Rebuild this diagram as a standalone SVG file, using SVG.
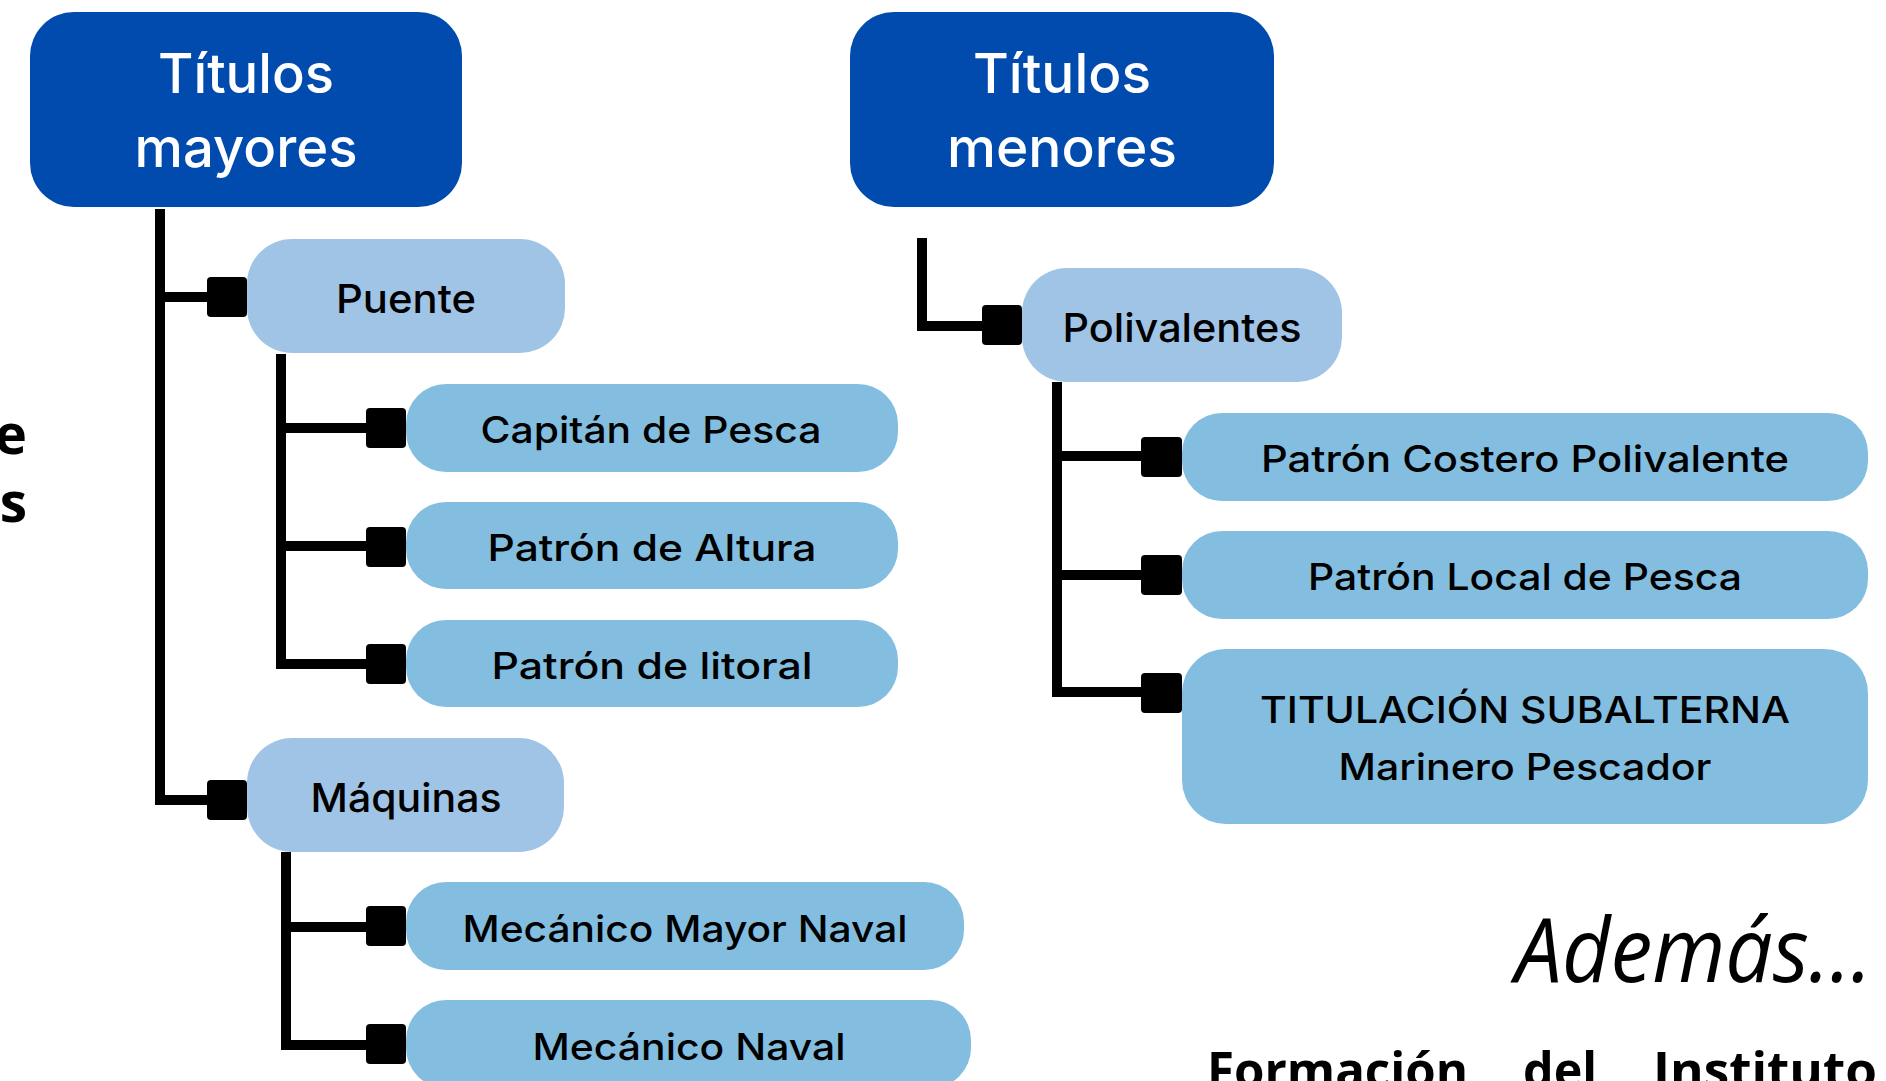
<svg xmlns="http://www.w3.org/2000/svg" width="1886" height="1081" viewBox="0 0 1886 1081">
<style>
.hdr{fill:#004BAD}
.mid{fill:#A0C4E6}
.leaf{fill:#83BEE0}
.sq{fill:#000}
.conn{fill:none;stroke:#000;stroke-width:10;stroke-linejoin:miter;stroke-linecap:butt}
text{font-family:Inter,"Noto Sans","Liberation Sans",sans-serif;font-weight:500;text-anchor:middle}
.th{fill:#fff;font-size:55px}
.tm{fill:#000;font-size:39px}
.tl{fill:#000;font-size:37px}
.side{font-family:"Open Sans","Liberation Sans",sans-serif;font-weight:700;font-size:55px;text-anchor:end}
</style>
<rect width="1886" height="1081" fill="#fff"/>
<g id="connectors">
<path class="conn" d="M160 209 V800 H207 M160 297 H207"/>
<path class="conn" d="M281 354 V664 H366 M281 428 H366 M281 546 H366"/>
<path class="conn" d="M286 852 V1045 H366 M286 927 H366"/>
<path class="conn" d="M922 238 V326 H982"/>
<path class="conn" d="M1057 382 V692 H1141 M1057 456 H1141 M1057 575 H1141"/>
</g>
<g id="titulos-mayores"><rect class="hdr" x="30" y="12" width="432" height="195" rx="44"/>
<text class="th" x="246" y="93" textLength="176" lengthAdjust="spacingAndGlyphs">Títulos</text>
<text class="th" x="246" y="167" textLength="223" lengthAdjust="spacingAndGlyphs">mayores</text></g>
<g id="titulos-menores"><rect class="hdr" x="850" y="12" width="424" height="195" rx="44"/>
<text class="th" x="1062" y="93" textLength="178" lengthAdjust="spacingAndGlyphs">Títulos</text>
<text class="th" x="1062" y="167" textLength="230" lengthAdjust="spacingAndGlyphs">menores</text></g>
<g id="puente"><rect class="mid" x="247" y="239" width="318" height="114" rx="45"/><rect class="sq" x="207" y="277" width="40" height="40" rx="4"/>
<text class="tm" x="406" y="313" textLength="140" lengthAdjust="spacingAndGlyphs">Puente</text></g>
<g id="maquinas"><rect class="mid" x="247" y="738" width="317" height="114" rx="45"/><rect class="sq" x="207" y="780" width="40" height="40" rx="4"/>
<text class="tm" x="406" y="812" textLength="191" lengthAdjust="spacingAndGlyphs">Máquinas</text></g>
<g id="polivalentes"><rect class="mid" x="1022" y="268" width="320" height="114" rx="45"/><rect class="sq" x="982" y="305" width="40" height="40" rx="4"/>
<text class="tm" x="1182" y="342" textLength="239" lengthAdjust="spacingAndGlyphs">Polivalentes</text></g>
<g id="capitan"><rect class="leaf" x="406" y="384" width="492" height="88" rx="40"/><rect class="sq" x="366" y="408" width="40" height="40" rx="4"/>
<text class="tl" x="651" y="443" textLength="341" lengthAdjust="spacingAndGlyphs">Capitán de Pesca</text></g>
<g id="altura"><rect class="leaf" x="406" y="502" width="492" height="87" rx="40"/><rect class="sq" x="366" y="527" width="40" height="40" rx="4"/>
<text class="tl" x="652" y="561" textLength="329" lengthAdjust="spacingAndGlyphs">Patrón de Altura</text></g>
<g id="litoral"><rect class="leaf" x="406" y="620" width="492" height="87" rx="40"/><rect class="sq" x="366" y="644" width="40" height="40" rx="4"/>
<text class="tl" x="652" y="679" textLength="321" lengthAdjust="spacingAndGlyphs">Patrón de litoral</text></g>
<g id="mecanico-mayor"><rect class="leaf" x="406" y="882" width="558" height="88" rx="40"/><rect class="sq" x="366" y="906" width="40" height="40" rx="4"/>
<text class="tl" x="685" y="942" textLength="445" lengthAdjust="spacingAndGlyphs">Mecánico Mayor Naval</text></g>
<g id="mecanico-naval"><rect class="leaf" x="406" y="1000" width="565" height="88" rx="40"/><rect class="sq" x="366" y="1024" width="40" height="40" rx="4"/>
<text class="tl" x="689" y="1060" textLength="313" lengthAdjust="spacingAndGlyphs">Mecánico Naval</text></g>
<g id="costero"><rect class="leaf" x="1182" y="413" width="686" height="88" rx="40"/><rect class="sq" x="1141" y="437" width="41" height="40" rx="4"/>
<text class="tl" x="1525" y="472" textLength="528" lengthAdjust="spacingAndGlyphs">Patrón Costero Polivalente</text></g>
<g id="local"><rect class="leaf" x="1182" y="531" width="686" height="88" rx="40"/><rect class="sq" x="1141" y="555" width="41" height="40" rx="4"/>
<text class="tl" x="1525" y="590" textLength="434" lengthAdjust="spacingAndGlyphs">Patrón Local de Pesca</text></g>
<g id="subalterna"><rect class="leaf" x="1182" y="649" width="686" height="175" rx="44"/><rect class="sq" x="1141" y="673" width="41" height="40" rx="4"/>
<text class="tl" x="1525" y="723" textLength="530" lengthAdjust="spacingAndGlyphs">TITULACIÓN SUBALTERNA</text>
<text class="tl" x="1525" y="780" textLength="373" lengthAdjust="spacingAndGlyphs">Marinero Pescador</text></g>
<g id="side-text">
<text class="side" x="27" y="454">e</text>
<text class="side" x="27" y="522">s</text>
</g>
<g id="ademas">
<text x="1872" y="982" style="font-family:'Open Sans','Liberation Sans',sans-serif;font-style:italic;font-weight:400;font-size:90px;text-anchor:end" textLength="357" lengthAdjust="spacingAndGlyphs">Además...</text>
<text y="1088" style="font-family:'Open Sans','Liberation Sans',sans-serif;font-weight:700;font-size:50px;text-anchor:start"><tspan x="1207" textLength="261" lengthAdjust="spacingAndGlyphs">Formación</tspan><tspan x="1523" textLength="74" lengthAdjust="spacingAndGlyphs">del</tspan><tspan x="1653" textLength="224" lengthAdjust="spacingAndGlyphs">Instituto</tspan></text>
</g>
</svg>
